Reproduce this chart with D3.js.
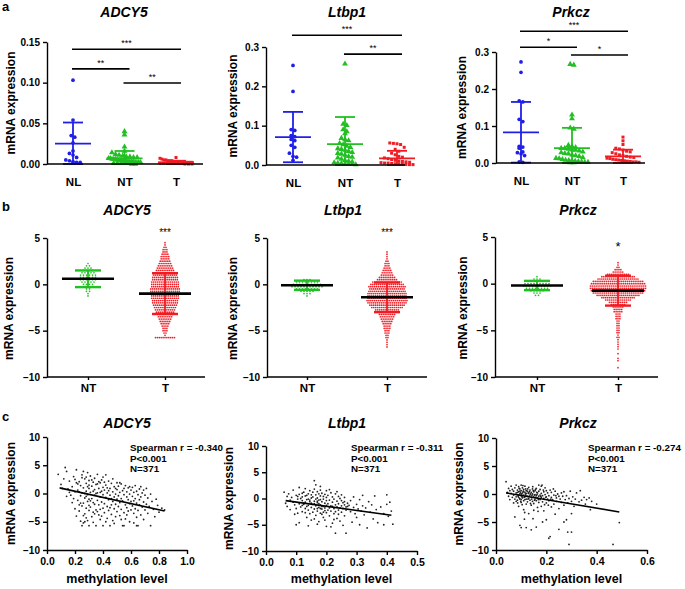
<!DOCTYPE html>
<html>
<head>
<meta charset="utf-8">
<script src="https://cdn.jsdelivr.net/npm/d3@7"></script>
<style>
body { margin: 0; background: #fff; }
text { font-family: "Liberation Sans", Arial, sans-serif; }
</style>
</head>
<body>
<svg id="fig" width="685" height="589"></svg>
<script>
// ---------- data ----------
const genes = ["ADCY5", "Ltbp1", "Prkcz"];
const aGroups = ["NL", "NT", "T"];
const bGroups = ["NT", "T"];

// row a: relative expression per sample
const a1NL = [0.103,0.054,0.035,0.033,0.026,0.016,0.013,0.011,0.008,0.005,0.004,0.003,0.002,0.002,0.001];
const a1NT = [0.040,0.036,0.021,0.016,0.014,0.012,0.011,0.010,0.009,0.009,0.008,0.008,0.007,0.007,0.006,0.006,0.006,0.005,0.005,0.005,0.004,0.004,0.004,0.003,0.003,0.003,0.003,0.002,0.002,0.002,0.002,0.001,0.001,0.001,0.001,0.001,0.000,0.000];
const a1T = [0.008,0.007,0.006,0.005,0.005,0.004,0.004,0.004,0.003,0.003,0.003,0.003,0.002,0.002,0.002,0.002,0.002,0.002,0.001,0.001,0.001,0.001,0.001,0.001,0.001,0.000,0.000,0.000];
const a2NL = [0.253,0.187,0.090,0.088,0.075,0.072,0.065,0.062,0.050,0.045,0.030,0.022,0.020,0.012];
const a2NT = [0.257,0.104,0.101,0.090,0.085,0.080,0.068,0.065,0.062,0.055,0.052,0.048,0.045,0.042,0.040,0.038,0.035,0.032,0.030,0.028,0.025,0.022,0.020,0.018,0.015,0.012,0.010,0.008,0.006,0.005,0.004,0.003,0.002,0.002,0.001];
const a2T = [0.056,0.055,0.054,0.052,0.045,0.040,0.035,0.030,0.026,0.022,0.020,0.018,0.016,0.014,0.012,0.010,0.009,0.008,0.007,0.006,0.005,0.005,0.004,0.003,0.003,0.002,0.002,0.001,0.001];
const a3NL = [0.273,0.245,0.168,0.165,0.118,0.112,0.045,0.043,0.040,0.030,0.028,0.025,0.020,0.003,0.002];
const a3NT = [0.267,0.265,0.130,0.120,0.095,0.092,0.048,0.045,0.042,0.040,0.040,0.038,0.036,0.035,0.033,0.030,0.028,0.026,0.025,0.022,0.020,0.018,0.015,0.013,0.012,0.010,0.008,0.007,0.006,0.005,0.004,0.003,0.002,0.002,0.001,0.001];
const a3T = [0.070,0.060,0.050,0.040,0.038,0.035,0.032,0.030,0.028,0.025,0.022,0.020,0.018,0.016,0.015,0.013,0.012,0.010,0.009,0.008,0.007,0.006,0.005,0.004,0.003,0.003,0.002];
const a1Mean = [0.025,0.007,0.002], a1SD = [0.026,0.009,0.002];
const a2Mean = [0.071,0.053,0.017], a2SD = [0.064,0.069,0.019];
const a3Mean = [0.083,0.040,0.018], a3SD = [0.082,0.055,0.018];
// significance brackets: from, to, label, height (data units)
const a1Sig = [["NL","T","***",0.141],["NL","NT","**",0.117],["NT","T","**",0.0996]];
const a2Sig = [["NL","T","***",0.33],["NT","T","**",0.282]];
const a3Sig = [["NL","T","***",0.356],["NL","NT","*",0.313],["NT","T","*",0.292]];
const aTicks1 = [0, 0.05, 0.10, 0.15];
const aTicks2 = [0, 0.1, 0.2, 0.3];

// row b: log expression, [level, number of samples at that level]
const b1NT = [[2.25,1],[2,2],[1.75,3],[1.5,4],[1.25,5],[1,6],[0.75,6],[0.5,6],[0.25,5],[0,4],[-0.25,3],[-0.5,2],[-0.75,2],[-1,1],[-1.25,1]];
const b1T = [[4.5,1],[4.25,1],[4,2],[3.75,3],[3.5,3],[3.25,4],[3,5],[2.75,5],[2.5,6],[2.25,7],[2,8],[1.75,9],[1.5,10],[1.25,12],[1,13],[0.75,14],[0.5,14],[0.25,15],[0,15],[-0.25,15],[-0.5,16],[-0.75,16],[-1,16],[-1.25,15],[-1.5,15],[-1.75,14],[-2,14],[-2.25,13],[-2.5,12],[-2.75,11],[-3,10],[-3.25,9],[-3.5,8],[-3.75,7],[-4,6],[-4.25,5],[-4.5,4],[-4.75,3],[-5,3],[-5.25,2],[-5.5,1],[-5.75,11]];
const b2NT = [[0.5,3],[0.25,8],[0,10],[-0.25,11],[-0.5,8],[-0.75,5],[-1,3],[-1.25,1]];
const b2T = [[3.5,1],[3.25,1],[3,1],[2.75,1],[2.5,2],[2.25,3],[2,3],[1.75,4],[1.5,5],[1.25,6],[1,7],[0.75,9],[0.5,11],[0.25,16],[0,18],[-0.25,20],[-0.5,19],[-0.75,20],[-1,21],[-1.25,21],[-1.5,21],[-1.75,22],[-2,21],[-2.25,19],[-2.5,17],[-2.75,13],[-3,11],[-3.25,9],[-3.5,8],[-3.75,7],[-4,6],[-4.25,5],[-4.5,4],[-4.75,4],[-5,3],[-5.25,3],[-5.5,2],[-5.75,2],[-6,1],[-6.25,1],[-6.5,1],[-6.75,1]];
const b3NT = [[0.75,1],[0.5,3],[0.25,7],[0,9],[-0.25,10],[-0.5,8],[-0.75,5],[-1,3],[-1.25,2]];
const b3T = [[2.25,1],[2,1],[1.75,2],[1.5,4],[1.25,6],[1,12],[0.75,18],[0.5,22],[0.25,27],[0,29],[-0.25,30],[-0.5,30],[-0.75,29],[-1,27],[-1.25,23],[-1.5,18],[-1.75,14],[-2,10],[-2.25,8],[-2.5,6],[-2.75,5],[-3,5],[-3.25,3],[-3.5,3],[-3.75,3],[-4,2],[-4.25,2],[-4.5,2],[-4.75,2],[-5,2],[-5.25,2],[-5.5,1],[-5.75,2],[-6,1],[-6.25,1],[-6.5,1],[-6.75,1],[-7,1],[-7.5,1],[-8,1],[-8.25,1],[-9,1]];
const b1Mean = [0.6,-1.0], b1SD = [0.9,2.2];
const b2Mean = [-0.1,-1.4], b2SD = [0.5,1.6];
const b3Mean = [-0.2,-0.75], b3SD = [0.5,1.6];
const bSig = ["***", "***", "*"];
const bTicks = [5, 0, -5, -10];

// row c: [methylation level, mRNA expression]
const c1Pts = [[0.08,3.4],[0.1,1.6],[0.12,2.6],[0.13,4.6],[0.14,3.9],[0.15,0.8],[0.16,2.2],[0.17,-0.3],[0.18,1.2],[0.18,-1.6],[0.19,3.0],[0.2,0.3],[0.2,-2.7],[0.21,4.2],[0.21,1.9],[0.19,-0.9],[0.16,0.2],[0.14,-0.5],[0.11,0.9],[0.2,2.5],
[0.22,-1.2],[0.22,0.6],[0.23,2.1],[0.23,-3.1],[0.24,1.4],[0.24,-0.4],[0.24,-4.9],[0.25,3.3],[0.25,0.1],[0.25,-2.2],[0.26,1.0],[0.26,-1.7],[0.26,-5.2],[0.27,2.6],[0.27,-0.8],[0.27,-3.6],[0.28,0.4],[0.28,1.8],[0.28,-2.6],[0.28,-4.3],[0.29,3.7],[0.29,-0.2],[0.29,-1.4],[0.3,2.3],[0.3,0.9],[0.3,-3.0],[0.3,-5.7],[0.23,-2.0],[0.25,2.8],[0.26,-3.9],[0.27,0.0],[0.29,1.2],[0.3,-1.0],[0.21,-4.0],[0.22,1.7],[0.24,-1.7],[0.26,3.9],[0.28,-0.5],[0.29,-4.8],[0.3,1.5],[0.25,-5.7],[0.27,-5.0],[0.23,0.3],[0.28,2.9],[0.3,-2.1],
[0.31,0.2],[0.31,-2.4],[0.31,3.1],[0.32,1.3],[0.32,-0.9],[0.32,-4.1],[0.33,2.0],[0.33,-1.6],[0.33,-3.3],[0.34,0.7],[0.34,-0.3],[0.34,2.7],[0.35,-2.9],[0.35,1.6],[0.35,-5.7],[0.36,0.1],[0.36,-1.2],[0.36,3.4],[0.37,-3.8],[0.37,0.9],[0.37,-2.0],[0.38,1.9],[0.38,-0.6],[0.38,-4.6],[0.39,2.4],[0.39,-1.5],[0.39,0.4],[0.4,-2.6],[0.4,1.1],[0.4,-0.2],[0.32,2.4],[0.33,0.4],[0.34,-1.9],[0.36,-3.2],[0.37,2.1],[0.38,-2.8],[0.39,-4.0],[0.35,0.0],[0.31,-1.3],[0.4,-5.7],[0.36,1.7],[0.33,-5.1],[0.38,0.2],[0.34,-3.6],[0.4,2.9],
[0.41,0.6],[0.41,-1.8],[0.41,-3.4],[0.42,1.5],[0.42,-0.7],[0.42,3.3],[0.43,-2.3],[0.43,0.1],[0.43,-4.4],[0.44,2.2],[0.44,-1.1],[0.44,-3.0],[0.45,0.9],[0.45,-0.3],[0.45,-5.7],[0.46,1.8],[0.46,-2.0],[0.46,-3.7],[0.47,0.3],[0.47,-1.4],[0.47,2.6],[0.48,-0.6],[0.48,-2.7],[0.48,1.2],[0.49,-4.1],[0.49,-0.1],[0.49,-1.9],[0.5,0.7],[0.5,-3.2],[0.5,-1.0],[0.42,-5.0],[0.44,0.5],[0.46,-0.9],[0.48,-5.3],[0.5,1.9],[0.43,1.0],[0.45,-2.5],[0.47,-4.8],[0.49,0.9],[0.41,2.0],
[0.51,-0.4],[0.51,-2.3],[0.51,1.3],[0.52,-1.6],[0.52,0.2],[0.52,-3.9],[0.53,1.7],[0.53,-0.9],[0.53,-2.8],[0.54,0.5],[0.54,-1.3],[0.54,-5.7],[0.55,-3.4],[0.55,0.9],[0.55,-0.2],[0.56,-2.0],[0.56,1.4],[0.56,-4.5],[0.57,-0.6],[0.57,-2.5],[0.57,0.3],[0.58,-1.1],[0.58,-3.1],[0.58,1.0],[0.59,-0.1],[0.59,-1.8],[0.59,-5.0],[0.6,0.6],[0.6,-2.9],[0.6,-1.4],[0.53,-4.6],[0.55,-5.7],[0.57,-3.8],[0.52,1.9],[0.59,1.2],
[0.61,-0.5],[0.61,-2.2],[0.61,1.1],[0.62,-3.5],[0.62,0.2],[0.62,-1.3],[0.63,-2.7],[0.63,-0.9],[0.63,1.4],[0.64,-4.2],[0.64,-1.7],[0.64,0.4],[0.65,-3.0],[0.65,-0.2],[0.65,-5.7],[0.66,-2.0],[0.66,0.8],[0.66,-1.1],[0.67,-3.8],[0.67,-0.6],[0.68,-2.4],[0.68,0.1],[0.69,-1.5],[0.69,-4.6],[0.7,-2.9],[0.7,-0.3],[0.62,-5.2],[0.64,-5.7],[0.67,1.2],[0.69,0.6],
[0.71,-1.9],[0.72,-0.8],[0.72,-3.5],[0.73,-2.3],[0.74,-0.1],[0.74,-5.7],[0.75,-1.4],[0.76,-2.8],[0.77,-4.1],[0.78,-1.0],[0.79,-2.1],[0.8,-3.3],[0.82,-2.6],[0.84,-2.9],[0.71,0.9]];
const c2Pts = [[0.06,1.2],[0.065,-0.9],[0.07,0.4],[0.07,-1.5],[0.075,0.9],[0.08,-0.3],[0.08,-2.1],[0.085,0.2],[0.09,-0.7],[0.09,1.6],[0.095,-1.2],[0.1,0.6],[0.1,-5.0],[0.1,-1.9],[0.095,-3.0],
[0.105,-0.1],[0.11,-1.0],[0.11,0.8],[0.11,2.1],[0.115,-1.6],[0.12,-0.4],[0.12,0.3],[0.12,-2.5],[0.125,-1.1],[0.125,1.2],[0.13,-0.7],[0.13,-1.9],[0.13,0.5],[0.135,-3.6],[0.135,-0.2],[0.14,-1.3],[0.14,0.9],[0.14,-2.2],[0.145,-0.6],[0.145,1.5],[0.15,-1.7],[0.15,0.1],[0.15,-4.1],[0.105,-2.8],[0.115,0.0],[0.125,-0.9],[0.135,-1.5],[0.145,-2.9],[0.11,-4.6],[0.13,1.9],[0.14,-0.1],[0.12,-1.3],[0.15,-0.9],[0.14,-5.2],[0.13,-2.7],[0.12,1.0],[0.15,0.7],[0.145,-0.3],[0.105,0.4],[0.135,0.6],
[0.155,-1.1],[0.155,0.3],[0.16,-0.5],[0.16,-2.0],[0.16,1.8],[0.16,3.4],[0.165,-1.4],[0.165,0.7],[0.165,-3.2],[0.17,-0.8],[0.17,-2.4],[0.17,0.1],[0.17,1.3],[0.175,-1.7],[0.175,-0.3],[0.175,-4.4],[0.18,0.5],[0.18,-1.2],[0.18,-2.8],[0.18,2.3],[0.185,-0.6],[0.185,-2.0],[0.185,1.0],[0.19,-1.5],[0.19,-0.1],[0.19,-3.6],[0.195,-0.9],[0.195,0.8],[0.195,-2.3],[0.2,-1.3],[0.2,-0.4],[0.2,-5.3],[0.2,1.5],[0.155,-2.6],[0.16,-1.0],[0.165,-0.1],[0.17,-1.9],[0.175,0.9],[0.18,-0.2],[0.185,-1.5],[0.19,0.4],[0.195,-1.8],[0.2,-2.7],[0.16,-3.9],[0.17,-4.9],[0.18,-1.9],[0.19,-2.6],[0.2,0.2],[0.155,1.2],[0.165,2.6],[0.175,-1.0],[0.185,-3.0],[0.195,-4.1],[0.17,-0.5],[0.18,1.6],
[0.205,-1.0],[0.205,0.6],[0.21,-1.8],[0.21,-0.3],[0.21,-3.3],[0.215,-1.4],[0.215,1.1],[0.215,-2.4],[0.22,-0.7],[0.22,-4.7],[0.22,0.3],[0.225,-1.9],[0.225,-0.1],[0.225,-2.9],[0.23,-1.2],[0.23,0.9],[0.23,-6.6],[0.235,-1.6],[0.235,-0.5],[0.235,-3.8],[0.24,-2.2],[0.24,0.4],[0.24,-1.0],[0.245,-1.8],[0.245,-4.3],[0.245,0.0],[0.25,-1.4],[0.25,-2.6],[0.25,0.7],[0.255,-0.8],[0.255,-1.9],[0.255,-5.1],[0.26,-1.2],[0.26,-3.3],[0.26,0.2],[0.265,-1.6],[0.265,-2.2],[0.265,-6.6],[0.27,-0.9],[0.27,-1.5],[0.205,-2.2],[0.21,1.7],[0.22,-1.5],[0.23,-2.5],[0.24,-3.0],[0.25,-0.4],[0.26,-0.6],[0.215,-5.4],[0.225,-4.0],[0.235,1.3],
[0.275,-1.3],[0.28,-2.5],[0.28,-0.4],[0.285,-4.5],[0.29,-1.7],[0.29,0.3],[0.295,-2.9],[0.3,-1.1],[0.3,-3.6],[0.305,-2.0],[0.31,-0.2],[0.31,-5.0],[0.315,-2.4],[0.32,-1.4],[0.32,0.6],[0.325,-3.1],[0.33,-1.8],[0.335,-5.6],[0.34,-0.6],[0.345,-2.6],[0.35,-1.2],[0.355,-3.9],[0.36,0.5],[0.365,-2.1],[0.37,-4.6],[0.38,-1.6],[0.39,-2.9],[0.4,0.7],[0.405,-3.4],[0.41,-0.7],[0.415,-2.4],[0.42,-4.9],[0.4,-1.1],[0.39,-5.0]];
const c3Pts = [[0.04,2.2],[0.045,0.3],[0.05,-0.4],[0.05,1.0],[0.055,0.6],[0.055,-1.0],[0.06,0.1],[0.06,1.4],[0.065,-0.6],[0.065,0.8],[0.07,-0.2],[0.07,-1.6],[0.07,0.5],[0.075,1.1],[0.075,-0.9],[0.075,-4.1],[0.08,0.2],[0.08,-0.5],[0.08,-1.3],[0.08,1.6],
[0.085,-0.1],[0.085,0.7],[0.085,-1.1],[0.09,0.4],[0.09,-0.6],[0.09,1.3],[0.09,-2.2],[0.095,0.0],[0.095,-0.9],[0.095,0.9],[0.095,-5.6],[0.1,-0.3],[0.1,0.6],[0.1,-1.5],[0.1,1.6],[0.1,-6.0],[0.105,0.2],[0.105,-0.7],[0.105,1.1],[0.11,-0.2],[0.11,-1.2],[0.11,0.8],[0.11,-2.8],[0.115,0.3],[0.115,-0.5],[0.115,1.4],[0.12,-0.9],[0.12,0.1],[0.12,-1.8],[0.12,-6.0],[0.085,0.3],[0.09,-0.2],[0.095,0.5],[0.1,-1.0],[0.105,-0.3],[0.11,0.4],[0.115,-1.0],[0.12,0.6],[0.088,-0.4],[0.092,1.0],[0.098,-1.3],[0.102,0.0],[0.108,0.5],[0.112,-0.6],[0.118,0.9],[0.086,-1.6],[0.094,-0.8],[0.104,-1.9],[0.114,-3.3],[0.119,-0.3],[0.097,0.2],[0.107,1.5],[0.113,-4.5],[0.103,-0.5],[0.117,0.0],
[0.125,-0.4],[0.125,0.5],[0.125,-1.4],[0.13,0.1],[0.13,-0.8],[0.13,1.2],[0.13,-3.5],[0.135,-0.2],[0.135,0.7],[0.135,-1.1],[0.14,0.3],[0.14,-0.6],[0.14,-2.0],[0.14,-6.4],[0.145,0.0],[0.145,-1.3],[0.145,0.9],[0.15,-0.5],[0.15,0.4],[0.15,-1.7],[0.15,-2.9],[0.155,-0.1],[0.155,-0.9],[0.155,0.6],[0.16,-0.3],[0.16,-1.2],[0.16,1.0],[0.16,-5.9],[0.165,0.2],[0.165,-0.7],[0.165,-2.4],[0.17,-0.4],[0.17,0.5],[0.17,-1.5],[0.17,1.6],[0.128,0.2],[0.132,-0.4],[0.138,0.0],[0.142,-0.9],[0.148,0.6],[0.152,-0.2],[0.158,-0.6],[0.162,0.3],[0.168,-1.0],[0.127,-0.9],[0.133,0.4],[0.143,-0.3],[0.153,-1.1],[0.163,-0.1],[0.137,-1.7],[0.147,-4.4],[0.157,0.8],[0.167,-3.1],[0.126,0.9],[0.146,1.3],
[0.175,-0.2],[0.175,-1.0],[0.175,0.8],[0.18,-0.6],[0.18,0.1],[0.18,1.4],[0.18,-2.2],[0.185,-0.3],[0.185,-1.4],[0.185,-5.0],[0.19,0.4],[0.19,-0.8],[0.19,-3.0],[0.195,-0.1],[0.195,1.1],[0.2,-0.5],[0.2,-1.6],[0.2,0.6],[0.2,-4.6],[0.205,-0.9],[0.205,0.2],[0.21,-1.2],[0.21,-0.3],[0.21,-7.9],[0.215,0.7],[0.215,-7.6],[0.22,-0.6],[0.22,-2.3],[0.22,0.3],[0.225,-1.0],[0.23,-0.2],[0.23,-1.8],[0.235,0.5],[0.235,-3.6],[0.24,-0.7],[0.24,-1.3],[0.245,0.0],[0.25,-0.4],[0.25,-2.6],[0.25,-6.3],[0.178,-0.4],[0.188,0.7],[0.198,-0.6],[0.208,-2.0],[0.218,-0.9],[0.228,0.9],[0.238,-0.3],[0.183,1.6],[0.193,-1.9],
[0.255,-0.9],[0.26,0.2],[0.26,-1.5],[0.265,-0.4],[0.27,-2.0],[0.27,0.4],[0.275,-1.0],[0.28,-0.3],[0.28,-4.6],[0.285,-1.6],[0.285,-6.8],[0.29,-9.0],[0.29,-0.8],[0.295,0.5],[0.3,-1.3],[0.3,-6.8],[0.305,-0.5],[0.31,-2.2],[0.315,-0.9],[0.32,0.2],[0.33,-1.4],[0.335,0.6],[0.34,-1.1],[0.35,-0.6],[0.355,-1.8],[0.36,-1.0],[0.37,-0.7],[0.375,-2.8],[0.38,-1.3],[0.4,-1.8],[0.465,-9.0],[0.49,-5.1],[0.3,-3.5],[0.27,-5.0]];
const c1Fit = [[0.09,1.0],[0.84,-3.1]];
const c2Fit = [[0.065,-0.4],[0.415,-3.2]];
const c3Fit = [[0.04,0.2],[0.49,-3.2]];
const c1Stats = ["Spearman r = -0.340","P<0.001","N=371"];
const c2Stats = ["Spearman r = -0.311","P<0.001","N=371"];
const c3Stats = ["Spearman r = -0.274","P<0.001","N=371"];
const cTicksY = [10, 5, 0, -5, -10];
const cTicksX1 = [0, 0.2, 0.4, 0.6, 0.8, 1.0];
const cTicksX2 = [0, 0.1, 0.2, 0.3, 0.4, 0.5];
const cTicksX3 = [0, 0.2, 0.4, 0.6];

// ---------- drawing ----------
const svg = d3.select("#fig");
const BLUE = "#1f1fe8", GREEN = "#22bf22", RED = "#f01c24";
const aColors = [BLUE, GREEN, RED];
const aShapes = [d3.symbolCircle, d3.symbolTriangle, d3.symbolSquare];
const aSizes = [11, 15, 9];

function styleAxis(ax, fs) {
  ax.select(".domain").attr("stroke", "#000").attr("stroke-width", 1.4);
  ax.selectAll(".tick line").attr("stroke", "#000").attr("stroke-width", 1.4);
  ax.selectAll("text").attr("font-size", fs).attr("font-weight", "bold").attr("fill", "#000");
}
function hline(g, x1, x2, y, color, w) {
  g.append("line").attr("x1", x1).attr("x2", x2).attr("y1", y).attr("y2", y)
    .attr("stroke", color).attr("stroke-width", w);
}
function vline(g, x, y1, y2, color, w) {
  g.append("line").attr("x1", x).attr("x2", x).attr("y1", y1).attr("y2", y2)
    .attr("stroke", color).attr("stroke-width", w);
}
function title(g, txt, x, y) {
  g.append("text").attr("x", x).attr("y", y).attr("text-anchor", "middle")
    .attr("font-size", 14).attr("font-weight", "bold").attr("font-style", "italic").text(txt);
}
function yTitle(g, x, y, fs) {
  g.append("text").attr("transform", `translate(${x},${y}) rotate(-90)`)
    .attr("text-anchor", "middle").attr("font-size", fs).attr("font-weight", "bold")
    .text("mRNA expression");
}
// spread points that share a row sideways, like a scatter dot plot;
// crowded rows are squeezed so the column keeps a limited width
function swarm(vals, y, cx, bin, step, half) {
  const rows = d3.group(vals, v => Math.round(y(v) / bin));
  const out = [];
  for (const vs of rows.values()) {
    const st = vs.length > 1 ? Math.min(step, 2 * half / (vs.length - 1)) : 0;
    vs.forEach((v, i) => out.push({ x: cx + (i - (vs.length - 1) / 2) * st, y: y(v) }));
  }
  return out;
}

// panel letters
[["a", 11], ["b", 211], ["c", 421]].forEach(([t, y]) =>
  svg.append("text").attr("x", 2).attr("y", y).attr("font-size", 13).attr("font-weight", "bold").text(t));

// ----- row a -----
const aPanels = [
  { vals: [a1NL, a1NT, a1T], mean: a1Mean, sd: a1SD, sig: a1Sig, ymax: 0.15, ticks: aTicks1, fmt: ".2f",
    L: { left: 47, right: 203, top: 42, bottom: 164, c0: 73, c2: 176, tx: 124, ax: 15 } },
  { vals: [a2NL, a2NT, a2T], mean: a2Mean, sd: a2SD, sig: a2Sig, ymax: 0.3, ticks: aTicks2, fmt: ".1f",
    L: { left: 266, right: 405, top: 47, bottom: 165, c0: 293, c2: 397, tx: 347, ax: 237 } },
  { vals: [a3NL, a3NT, a3T], mean: a3Mean, sd: a3SD, sig: a3Sig, ymax: 0.3, ticks: aTicks2, fmt: ".1f",
    L: { left: 496, right: 645, top: 52, bottom: 163, c0: 521, c2: 623, tx: 571, ax: 466 } }
];
aPanels.forEach((P, k) => {
  const L = P.L, g = svg.append("g");
  const y = d3.scaleLinear().domain([0, P.ymax]).range([L.bottom, L.top]);
  const x = d3.scalePoint().domain(aGroups).range([L.c0, L.c2]);
  title(g, genes[k], L.tx, 17);
  yTitle(g, L.ax, (L.top + L.bottom) / 2, 12);
  P.vals.forEach((vals, i) => {
    const cx = x(aGroups[i]);
    g.append("g").selectAll("path").data(swarm(vals, y, cx, 5, 3.6, 16)).join("path")
      .attr("transform", d => `translate(${d.x},${d.y})`)
      .attr("d", d3.symbol(aShapes[i], aSizes[i])).attr("fill", aColors[i]);
    const m = P.mean[i], s = P.sd[i];
    const lo = y(Math.max(0, m - s)), hi = y(m + s);
    vline(g, cx, lo, hi, aColors[i], 1.8);
    hline(g, cx - 10, cx + 10, hi, aColors[i], 1.8);
    hline(g, cx - 10, cx + 10, lo, aColors[i], 1.8);
    hline(g, cx - 18, cx + 18, y(m), aColors[i], 1.8);
  });
  P.sig.forEach(([f, t, lab, h]) => {
    const x1 = x(f) - 1, x2 = x(t) + 5;
    hline(g, x1, x2, y(h), "#000", 1.6);
    g.append("text").attr("x", (x1 + x2) / 2).attr("y", y(h) - 3).attr("text-anchor", "middle")
      .attr("font-size", 9).text(lab);
  });
  const ya = g.append("g").attr("transform", `translate(${L.left},0)`)
    .call(d3.axisLeft(y).tickValues(P.ticks).tickFormat(d3.format(P.fmt)).tickSize(4).tickSizeOuter(0).tickPadding(3));
  styleAxis(ya, 10);
  hline(g, L.left, L.right, L.bottom, "#000", 1.4);
  const xa = g.append("g").attr("transform", `translate(0,${L.bottom})`)
    .call(d3.axisBottom(x).tickSize(0).tickPadding(14));
  xa.select(".domain").remove();
  styleAxis(xa, 11.5);
});

// ----- row b -----
const bPanels = [
  { rows: [b1NT, b1T], mean: b1Mean, sd: b1SD,
    L: { left: 47, right: 205, top: 238, bottom: 377, c0: 88, c1: 165, tx: 127, ax: 13 } },
  { rows: [b2NT, b2T], mean: b2Mean, sd: b2SD,
    L: { left: 267, right: 427, top: 238, bottom: 377, c0: 307, c1: 387, tx: 343, ax: 237 } },
  { rows: [b3NT, b3T], mean: b3Mean, sd: b3SD,
    L: { left: 495, right: 658, top: 237, bottom: 377, c0: 537, c1: 618, tx: 578, ax: 467 } }
];
const bColors = [GREEN, RED];
const bStep = [3, 1.9];
bPanels.forEach((P, k) => {
  const L = P.L, g = svg.append("g");
  const y = d3.scaleLinear().domain([-10, 5]).range([L.bottom, L.top]);
  const x = d3.scalePoint().domain(bGroups).range([L.c0, L.c1]);
  title(g, genes[k], L.tx, 215);
  yTitle(g, L.ax, (L.top + L.bottom) / 2 + 1, 12);
  P.rows.forEach((rows, i) => {
    const cx = x(bGroups[i]);
    const pts = rows.flatMap(([v, n]) => d3.range(n).map(j => ({ x: cx + (j - (n - 1) / 2) * bStep[i], y: y(v) })));
    g.append("g").selectAll("circle").data(pts).join("circle")
      .attr("cx", d => d.x).attr("cy", d => d.y).attr("r", 0.85).attr("fill", bColors[i]);
    const m = P.mean[i], s = P.sd[i];
    vline(g, cx, y(m - s), y(m + s), bColors[i], 1.8);
    hline(g, cx - 13, cx + 13, y(m + s), bColors[i], 2.4);
    hline(g, cx - 13, cx + 13, y(m - s), bColors[i], 2.4);
    hline(g, cx - 26, cx + 26, y(m), "#000", 2.6);
  });
  g.append("text").attr("x", x("T")).attr("y", k === 2 ? 251 : 236).attr("text-anchor", "middle")
    .attr("font-size", k === 2 ? 13 : 10).text(bSig[k]);
  const ya = g.append("g").attr("transform", `translate(${L.left},0)`)
    .call(d3.axisLeft(y).tickValues(bTicks).tickFormat(d3.format("d")).tickSize(4).tickSizeOuter(0).tickPadding(3));
  styleAxis(ya, 10);
  hline(g, L.left, L.right, L.bottom, "#000", 1.4);
  const xa = g.append("g").attr("transform", `translate(0,${L.bottom})`)
    .call(d3.axisBottom(x).tickSize(3).tickPadding(4));
  xa.select(".domain").remove();
  styleAxis(xa, 11.5);
});

// ----- row c -----
const cPanels = [
  { pts: c1Pts, fit: c1Fit, stats: c1Stats, xmax: 1.0, ticks: cTicksX1,
    L: { left: 47, x1: 187, top: 437, bottom: 550, tx: 127, ax: 15, sx: 130 } },
  { pts: c2Pts, fit: c2Fit, stats: c2Stats, xmax: 0.5, ticks: cTicksX2,
    L: { left: 266, x1: 417, top: 446, bottom: 551, tx: 347, ax: 233, sx: 351 } },
  { pts: c3Pts, fit: c3Fit, stats: c3Stats, xmax: 0.6, ticks: cTicksX3,
    L: { left: 496, x1: 647, top: 438, bottom: 550, tx: 578, ax: 463, sx: 588 } }
];
cPanels.forEach((P, k) => {
  const L = P.L, g = svg.append("g");
  const y = d3.scaleLinear().domain([-10, 10]).range([L.bottom, L.top]);
  const x = d3.scaleLinear().domain([0, P.xmax]).range([L.left, L.x1]);
  title(g, genes[k], L.tx, 428);
  yTitle(g, L.ax, (L.top + L.bottom) / 2, 12);
  g.append("g").selectAll("circle").data(P.pts).join("circle")
    .attr("cx", d => x(d[0])).attr("cy", d => y(d[1])).attr("r", 0.9).attr("fill", "#222");
  g.append("path").attr("d", d3.line().x(d => x(d[0])).y(d => y(d[1]))(P.fit))
    .attr("stroke", "#000").attr("stroke-width", 1.6).attr("fill", "none");
  P.stats.forEach((s, i) => g.append("text").attr("x", L.sx).attr("y", 451 + i * 10.5)
    .attr("font-size", 9.8).attr("font-weight", "bold").text(s));
  const ya = g.append("g").attr("transform", `translate(${L.left},0)`)
    .call(d3.axisLeft(y).tickValues(cTicksY).tickFormat(d3.format("d")).tickSize(4).tickSizeOuter(0).tickPadding(3));
  styleAxis(ya, 10);
  const xa = g.append("g").attr("transform", `translate(0,${L.bottom})`)
    .call(d3.axisBottom(x).tickValues(P.ticks).tickFormat(d3.format(".1f")).tickSize(4).tickSizeOuter(0).tickPadding(4));
  styleAxis(xa, 10.5);
  g.append("text").attr("x", (L.left + L.x1) / 2).attr("y", 583).attr("text-anchor", "middle")
    .attr("font-size", 12.5).attr("font-weight", "bold").text("methylation level");
});
</script>
</body>
</html>
